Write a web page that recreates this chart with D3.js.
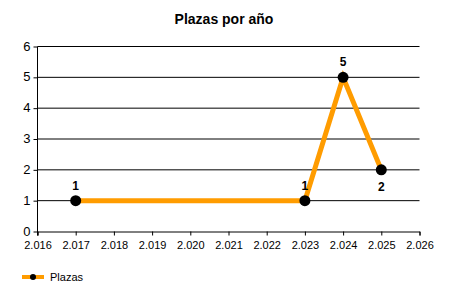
<!DOCTYPE html>
<html>
<head>
    <meta charset="utf-8" />
    <script src="https://d3js.org/d3.v7.min.js"></script>
    <style>
        body { margin: 0; background: #fff; }
        text { font-family: "Liberation Sans", Arial, sans-serif; }
    </style>
</head>
<body>
<svg id="svg"></svg>
<script>

// data
let years = [2017, 2023, 2024, 2025];
let plazas = [1, 1, 5, 2];
let labelBelow = [false, false, false, true];

let xTicks = [2016, 2017, 2018, 2019, 2020, 2021, 2022, 2023, 2024, 2025, 2026];
let yTicks = [0, 1, 2, 3, 4, 5, 6];

let W = 450, H = 300;

let svg = d3.select("#svg")
    .attr("width", W)
    .attr("height", H);

let x = d3.scaleLinear().domain([2016, 2026]).range([37.5, 419.5]);
let y = d3.scaleLinear().domain([0, 6]).range([231.5, 46.5]);

// title
svg.append("text")
    .attr("x", 224)
    .attr("y", 24)
    .attr("text-anchor", "middle")
    .attr("font-size", 14)
    .attr("font-weight", "bold")
    .text("Plazas por año");

// horizontal grid
svg.selectAll(".grid")
    .data(yTicks.filter(d => d > 0))
    .enter()
    .append("line")
    .attr("x1", x(2016))
    .attr("x2", x(2026))
    .attr("y1", d => y(d))
    .attr("y2", d => y(d))
    .attr("stroke", "#000")
    .attr("stroke-width", 1);

let fmt = d => (d / 1000).toFixed(3);

let xAxis = svg.append("g")
    .attr("transform", "translate(0," + y(0) + ")")
    .call(d3.axisBottom(x).tickValues(xTicks).tickSize(4).tickPadding(6).tickFormat(fmt));

let yAxis = svg.append("g")
    .attr("transform", "translate(" + x(2016) + ",0)")
    .call(d3.axisLeft(y).tickValues(yTicks).tickSize(4).tickPadding(3).tickFormat(d3.format("d")));

[xAxis, yAxis].forEach(g => {
    g.select(".domain").attr("stroke", "#000");
    g.selectAll(".tick line").attr("stroke", "#000");
    g.selectAll(".tick text")
        .attr("fill", "#000")
        .attr("font-size", 11)
        .attr("font-family", "Liberation Sans, Arial, sans-serif");
});
yAxis.select(".domain").attr("d", "M0," + y(6) + "V" + (y(0) + 4));
yAxis.selectAll(".tick text").attr("x", -7).attr("dy", "0.28em").attr("font-size", 13);

let points = years.map((d, i) => ({ year: d, value: plazas[i], below: labelBelow[i] }));

// series line
svg.append("path")
    .datum(points)
    .attr("fill", "none")
    .attr("stroke", "#FF9C00")
    .attr("stroke-width", 5)
    .attr("stroke-linejoin", "miter")
    .attr("d", d3.line().x(d => x(d.year)).y(d => y(d.value)));

svg.selectAll(".dot")
    .data(points)
    .enter()
    .append("circle")
    .attr("cx", d => x(d.year))
    .attr("cy", d => y(d.value))
    .attr("r", 5.5)
    .attr("fill", "#000");

svg.selectAll(".lbl")
    .data(points)
    .enter()
    .append("text")
    .attr("x", d => x(d.year))
    .attr("y", d => d.below ? y(d.value) + 21 : y(d.value) - 11)
    .attr("text-anchor", "middle")
    .attr("font-size", 12)
    .attr("font-weight", "bold")
    .text(d => d.value);

// legend
let lg = svg.append("g").attr("transform", "translate(22,277)");
lg.append("line")
    .attr("x1", 0).attr("x2", 22)
    .attr("stroke", "#FF9C00")
    .attr("stroke-width", 4);
lg.append("circle")
    .attr("cx", 11)
    .attr("r", 3)
    .attr("fill", "#000");
lg.append("text")
    .attr("x", 28)
    .attr("y", 4)
    .attr("font-size", 11)
    .attr("fill", "#000")
    .text("Plazas");

</script>
</body>
</html>
